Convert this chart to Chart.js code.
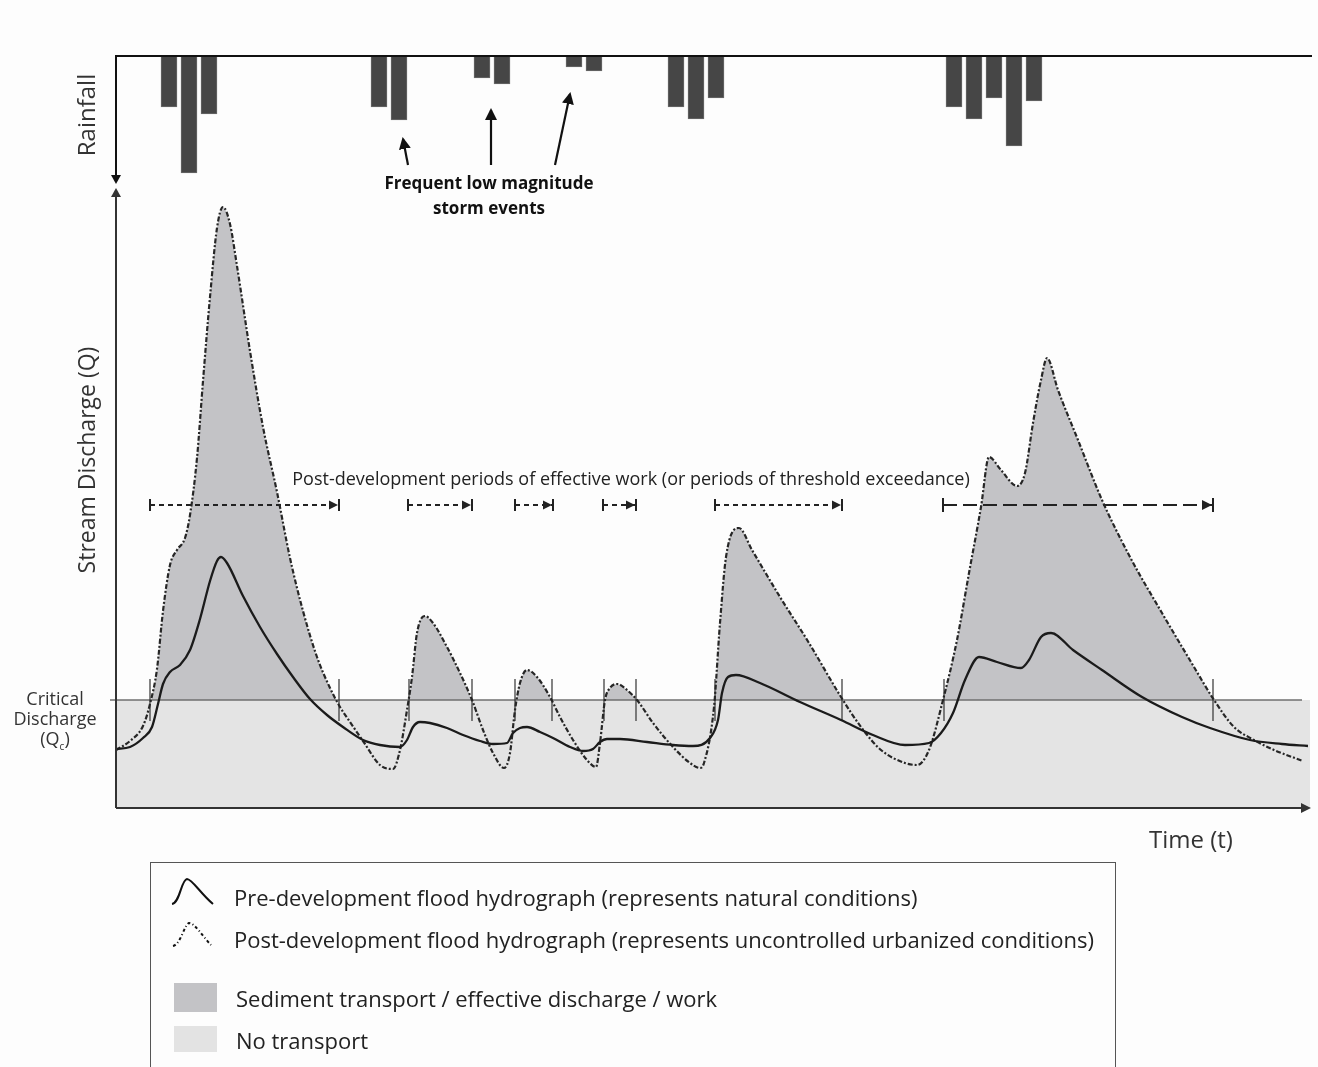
<!DOCTYPE html>
<html><head><meta charset="utf-8">
<script src="https://cdn.jsdelivr.net/npm/chart.js@4.4.1/dist/chart.umd.min.js"></script>
<style>
html,body{margin:0;padding:0;background:#fdfdfd;width:1318px;height:1067px;overflow:hidden;font-family:'Open Sans',Lato,sans-serif;color:#222;}
canvas{position:absolute;left:0;top:0;}
.t{position:absolute;white-space:nowrap;line-height:1;}
.rot{transform:translate(-50%,-50%) rotate(-90deg);}
.ctr{transform:translate(-50%,-50%);}
#legend{position:absolute;left:150px;top:862px;width:966px;height:230px;border:1px solid #555;box-sizing:border-box;}
.sw{position:absolute;width:43px;}
.lg{font-size:22px;color:#222;}
</style></head><body>
<canvas id="cQ" width="1318" height="1067"></canvas>
<canvas id="cR" width="1318" height="190"></canvas>

<div class="t rot" style="left:86px;top:115px;font-size:24px;color:#333;">Rainfall</div>
<div class="t rot" style="left:86px;top:460px;font-size:23px;color:#333;">Stream Discharge (Q)</div>
<div class="t" style="left:1149px;top:827px;font-size:24px;color:#333;">Time (t)</div>
<div class="t ctr" style="left:55px;top:698px;font-size:18px;color:#333;">Critical</div>
<div class="t ctr" style="left:55px;top:718px;font-size:18px;color:#333;">Discharge</div>
<div class="t ctr" style="left:55px;top:740px;font-size:18px;color:#333;">(Q<sub style="font-size:10px;">c</sub>)</div>
<div class="t ctr" style="left:631px;top:478px;font-size:18px;color:#222;">Post-development periods of effective work (or periods of threshold exceedance)</div>
<div class="t ctr" style="left:489px;top:182px;font-size:17px;font-weight:bold;color:#111;">Frequent low magnitude</div>
<div class="t ctr" style="left:489px;top:207px;font-size:17px;font-weight:bold;color:#111;">storm events</div>

<svg style="position:absolute;left:0;top:0;" width="1318" height="1067">
  <defs>
    <marker id="ah2" markerWidth="12" markerHeight="12" refX="10" refY="6" orient="auto" markerUnits="userSpaceOnUse">
    <path d="M0,0 L12,6 L0,12 z" fill="#111"/></marker></defs>
  <line x1="408" y1="165" x2="403" y2="139" stroke="#111" stroke-width="2.2" marker-end="url(#ah2)"/>
  <line x1="491" y1="165" x2="491" y2="110" stroke="#111" stroke-width="2.2" marker-end="url(#ah2)"/>
  <line x1="555" y1="165" x2="570" y2="94" stroke="#111" stroke-width="2.2" marker-end="url(#ah2)"/>
  <path d="M172 904 C180 903 181 880 187 879 C192 879 200 893 213 904" fill="none" stroke="#111" stroke-width="2"/>
  <path d="M173 946 C181 944 184 925 189 923 C195 923 203 937 211 945" fill="none" stroke="#111" stroke-width="2" stroke-dasharray="3 2.5 1 2.5"/>
</svg>

<div id="legend">
  <div class="t lg" style="left:83px;top:23px;">Pre-development flood hydrograph (represents natural conditions)</div>
  <div class="t lg" style="left:83px;top:65px;">Post-development flood hydrograph (represents uncontrolled urbanized conditions)</div>
  <div class="sw" style="left:23px;top:120px;height:29px;background:#c3c3c6;"></div>
  <div class="t lg" style="left:85px;top:124px;">Sediment transport / effective discharge / work</div>
  <div class="sw" style="left:23px;top:163px;height:26px;background:#e3e3e3;"></div>
  <div class="t lg" style="left:85px;top:166px;">No transport</div>
</div>

<script>
// ---- Data (time t in arbitrary units, discharge Q in arbitrary units) ----
const QC = 10.8; // critical discharge
const preTime = [0,1.4,2.7,3.6,4.2,4.7,5.4,6.4,7.4,8.4,9.4,10.1,10.5,11.1,12.7,14.4,16.1,17.7,19.4,21.1,22.7,24.7,26.4,28.4,29.1,29.7,30.4,31.4,33.1,34.7,36.4,37.7,39.1,39.7,40.4,41.1,42.4,43.7,45.4,46.7,47.7,48.4,49.1,50.4,53.1,55.7,57.7,59.4,60.2,60.6,61.2,62.0,64.4,68.4,72.5,75.7,78.9,81.3,82.5,83.7,84.9,86.3,88.1,90.5,91.3,92.5,93.5,95.7,98.6,102.6,106.6,109.4,113.4,116.6,119.2];
const preQ = [5.9,6.1,7.0,8.1,10.4,12.4,13.6,14.3,15.8,18.9,22.7,24.7,25.1,24.5,21.2,18.1,15.4,13.1,10.9,9.3,8.1,6.8,6.3,6.1,6.8,8.1,8.6,8.5,8.0,7.3,6.7,6.4,6.5,7.5,8.0,8.1,7.6,7.0,6.1,5.7,5.9,6.6,6.9,6.9,6.6,6.3,6.2,7.0,8.8,11.5,13.1,13.3,12.5,10.6,8.8,7.3,6.3,6.5,7.5,9.5,12.8,15.1,14.6,14.0,14.8,17.1,17.5,15.8,13.8,11.1,9.1,8.0,6.8,6.4,6.2];
const postTime = [0,1.4,2.7,3.4,4.1,4.7,5.4,6.1,6.9,7.4,8.1,8.7,9.4,10.1,10.7,11.4,12.1,13.4,14.7,16.1,17.4,18.7,20.1,21.4,22.4,23.4,24.7,26.4,27.7,28.4,29.1,29.6,30.1,30.9,31.7,33.1,34.4,35.6,36.7,37.7,38.8,39.4,39.9,40.4,41.1,42.1,43.4,44.4,45.7,47.1,48.0,48.4,48.9,49.4,50.1,51.1,52.1,53.7,55.7,57.4,58.4,58.8,59.8,60.4,61.0,62.3,63.6,66.4,69.3,72.5,74.5,76.5,78.9,80.1,81.3,82.7,84.1,85.3,86.5,87.3,88.5,90.1,90.9,91.7,92.5,93.1,94.2,96.2,98.6,101.4,104.6,107.8,109.8,111.8,113.8,115.8,118.7];
const postQ = [5.8,6.7,8.2,10.4,13.9,19.7,24.3,25.8,27.0,29.3,35.0,42.7,51.1,58.0,60.1,58.4,54.2,45.7,38.1,31.6,25.0,19.7,15.1,12.0,10.1,8.6,6.7,4.3,3.9,5.8,9.8,13.1,17.5,19.2,18.5,16.1,13.5,10.8,7.8,5.5,4.0,5.5,9.8,12.5,13.8,13.1,11.1,9.1,6.8,4.8,4.1,6.5,10.8,12.0,12.4,11.8,10.8,8.5,6.1,4.5,4.0,4.5,10.1,18.5,25.1,28.0,25.8,21.1,16.5,11.1,8.1,5.8,4.5,4.3,5.8,10.8,16.8,23.5,30.1,35.1,33.8,32.2,33.5,38.5,42.8,45.0,41.8,36.8,30.8,25.1,19.5,14.1,10.8,8.1,6.8,5.8,4.7];
const exceedTimes = [3.4,22.3,29.3,35.6,39.9,43.6,48.8,52.0,59.9,72.6,82.8,109.7];
const periodStart = [3.4,29.2,39.9,48.7,59.9,82.7];
const periodEnd   = [22.3,35.6,43.7,52.0,72.6,109.7];
const periodQ = 30.3;
const rainTime = [5.3,7.3,9.3,26.3,28.3,36.6,38.6,45.8,47.8,56,58,60,83.8,85.8,87.8,89.8,91.8];
const rainDepth = [5.1,11.7,5.8,5.1,6.4,2.2,2.8,1.1,1.5,5.1,6.3,4.2,5.1,6.3,4.2,9.0,4.5];

const T_MAX_Q = 119.4, Q_MAX = 62, T_MAX_R = 119.6, RAIN_MAX = 12.7;

const xy = (xs, ys) => xs.map((x, i) => ({x, y: ys[i]}));
const DARK = '#c3c3c6', LIGHT = '#e4e4e4';

function arrowHead(ctx, x, y, dir, len, half) {
  ctx.beginPath();
  if (dir === 'up') { ctx.moveTo(x, y); ctx.lineTo(x - half, y + len); ctx.lineTo(x + half, y + len); }
  else if (dir === 'down') { ctx.moveTo(x, y); ctx.lineTo(x - half, y - len); ctx.lineTo(x + half, y - len); }
  else { ctx.moveTo(x, y); ctx.lineTo(x - len, y - half); ctx.lineTo(x - len, y + half); }
  ctx.closePath(); ctx.fill();
}

const axesQ = {
  id: 'axesQ',
  afterDatasetsDraw(chart) {
    const {ctx, chartArea: a, scales} = chart;
    ctx.save();
    ctx.strokeStyle = '#222'; ctx.fillStyle = '#222'; ctx.lineWidth = 2;
    const py = scales.y.getPixelForValue(periodQ);
    periodStart.forEach((s, i) => {
      const xs = scales.x.getPixelForValue(s), xe = scales.x.getPixelForValue(periodEnd[i]);
      const big = i === periodStart.length - 1;
      const h = big ? 7 : 6;
      ctx.beginPath(); ctx.moveTo(xs, py - h); ctx.lineTo(xs, py + h); ctx.stroke();
      ctx.beginPath(); ctx.moveTo(xe, py - h); ctx.lineTo(xe, py + h); ctx.stroke();
      arrowHead(ctx, xe - 1, py, 'right', big ? 10 : 9, big ? 5 : 4.5);
    });
    ctx.strokeStyle = '#333'; ctx.fillStyle = '#333'; ctx.lineWidth = 2;
    ctx.beginPath(); ctx.moveTo(a.left, a.bottom); ctx.lineTo(a.left, a.top + 8); ctx.stroke();
    arrowHead(ctx, a.left, a.top, 'up', 9, 5);
    ctx.beginPath(); ctx.moveTo(a.left, a.bottom); ctx.lineTo(a.right - 8, a.bottom); ctx.stroke();
    arrowHead(ctx, a.right + 1, a.bottom, 'right', 10, 5);
    ctx.restore();
  }
};

new Chart(document.getElementById('cQ'), {
  type: 'line',
  data: {
    datasets: [
      { label: 'Pre-development', data: xy(preTime, preQ), borderColor: '#1b1b1b', borderWidth: 2.3,
        pointRadius: 0, cubicInterpolationMode: 'monotone', fill: false },
      { label: 'Post-development', data: xy(postTime, postQ), borderColor: '#262626', borderWidth: 2.2,
        borderDash: [5, 2, 2, 2], pointRadius: 0, cubicInterpolationMode: 'monotone',
        fill: { target: { value: QC }, above: DARK, below: 'rgba(0,0,0,0)' } },
      { label: 'Exceedance', type: 'scatter', data: exceedTimes.map(x => ({x, y: QC})),
        pointStyle: 'line', rotation: 90, radius: 21, borderColor: '#333', borderWidth: 1.2, backgroundColor: '#333' },
      { label: 'Periods', data: periodStart.slice(0, 5).flatMap((s, i) => [{x: s, y: periodQ}, {x: periodEnd[i], y: periodQ}, {x: (periodEnd[i] + periodStart[i + 1]) / 2, y: null}]),
        borderColor: '#222', borderWidth: 1.8, borderDash: [5, 4], pointRadius: 0, spanGaps: false, fill: false },
      { label: 'Period big', data: [{x: periodStart[5], y: periodQ}, {x: periodEnd[5], y: periodQ}],
        borderColor: '#222', borderWidth: 2.2, borderDash: [14, 6], pointRadius: 0, fill: false },
      { label: 'Critical', data: [{x: -0.6, y: QC}, {x: 118.6, y: QC}], borderColor: '#6f6f6f', borderWidth: 1.6,
        pointRadius: 0, fill: false, clip: 10 },
      { label: 'No transport', data: [{x: 0, y: QC}, {x: T_MAX_Q, y: QC}], borderWidth: 0, borderColor: 'rgba(0,0,0,0)',
        pointRadius: 0, fill: 'origin', backgroundColor: LIGHT }
    ]
  },
  options: {
    responsive: false, animation: false, events: [],
    layout: { autoPadding: false, padding: { left: 116, top: 188, right: 8, bottom: 259 } },
    scales: {
      x: { type: 'linear', min: 0, max: T_MAX_Q, display: false },
      y: { type: 'linear', min: 0, max: Q_MAX, display: false }
    },
    plugins: { legend: { display: false }, tooltip: { enabled: false }, filler: { drawTime: 'beforeDatasetsDraw' } }
  },
  plugins: [axesQ]
});

const axesR = {
  id: 'axesR',
  afterDraw(chart) {
    const {ctx, chartArea: a} = chart;
    ctx.save();
    ctx.strokeStyle = '#111'; ctx.fillStyle = '#111'; ctx.lineWidth = 2;
    ctx.beginPath(); ctx.moveTo(a.right, a.top); ctx.lineTo(a.left, a.top); ctx.lineTo(a.left, a.bottom - 8); ctx.stroke();
    arrowHead(ctx, a.left, a.bottom + 1, 'down', 9, 5);
    ctx.restore();
  }
};

new Chart(document.getElementById('cR'), {
  type: 'bar',
  data: { datasets: [{ label: 'Rainfall', data: xy(rainTime, rainDepth), backgroundColor: '#464646',
    borderColor: '#6a6a6a', borderWidth: 1, barThickness: 16 }] },
  options: {
    responsive: false, animation: false, events: [],
    layout: { autoPadding: false, padding: { left: 116, top: 56, right: 6, bottom: 7 } },
    scales: {
      x: { type: 'linear', min: 0, max: T_MAX_R, display: false, offset: false },
      y: { min: 0, max: RAIN_MAX, reverse: true, display: false }
    },
    plugins: { legend: { display: false }, tooltip: { enabled: false } }
  },
  plugins: [axesR]
});
</script>
</body></html>
